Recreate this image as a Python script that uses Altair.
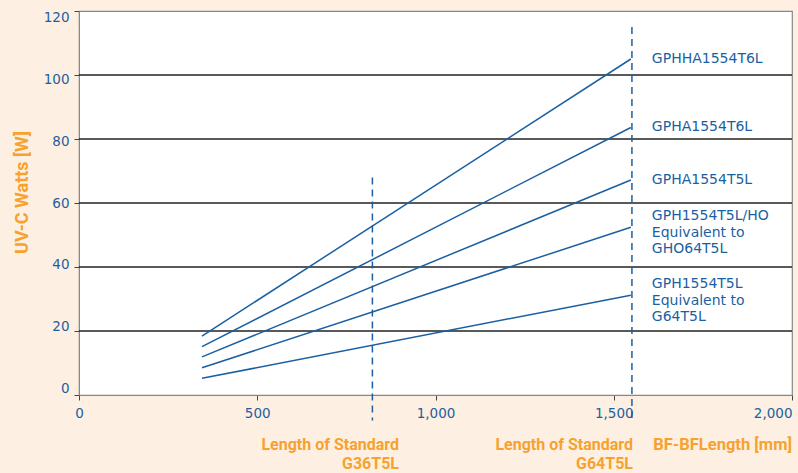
import altair as alt
import pandas as pd

# ---- data ----
series = ["GPHHA1554T6L", "GPHA1554T6L", "GPHA1554T5L",
          "GPH1554T5L/HO\nEquivalent to\nGHO64T5L",
          "GPH1554T5L\nEquivalent to\nG64T5L"]
n_lines = [1, 1, 1, 3, 3]
length_start = 345
length_end = 1548
watts_start = [18.4, 15.1, 11.9, 8.5, 5.2]
watts_end = [105.0, 83.6, 67.2, 52.4, 31.2]

std_length = [823, 1551]
std_top = [68, 115]
std_bottom = [-8, -8]
std_labels = ["Length of Standard\nG36T5L", "Length of Standard\nG64T5L"]

grid_values = [20, 40, 60, 80, 100]
y_ticks = [0, 20, 40, 60, 80, 100, 120]
x_ticks = [0, 500, 1000, 1500, 2000]

BLUE = "#1b5fa3"
ORANGE = "#f7a12f"
BG = "#fdf0e2"
FONT = "DejaVu Sans"
COND = "Roboto"

W, H = 713, 384

rows = []
for s, a, b in zip(series, watts_start, watts_end):
    rows.append({"series": s, "length": length_start, "watts": a})
    rows.append({"series": s, "length": length_end, "watts": b})
lines_df = pd.DataFrame(rows)

labels_df = pd.DataFrame({"series": series, "n": n_lines,
                          "length": [length_end] * len(series), "watts": watts_end})
std_df = pd.DataFrame({"length": std_length, "top": std_top, "bottom": std_bottom})
grid_df = pd.DataFrame({"v": grid_values})

xs = alt.Scale(domain=[0, 2000], nice=False)
ys = alt.Scale(domain=[0, 120], nice=False)

x_axis = alt.Axis(values=x_ticks, format=",d", title=None, grid=False,
                  tickSize=5, tickColor="#444", domainColor="#888",
                  labelColor=BLUE, labelFont=FONT, labelFontSize=13.5,
                  labelPadding=6,
                  labelAlign=alt.expr("datum.value == 2000 ? 'right' : 'center'"))
y_axis = alt.Axis(values=y_ticks, grid=False, title="UV-C Watts [W]",
                  tickSize=5, tickColor="#444", domainColor="#888",
                  labelColor=BLUE, labelFont=FONT, labelFontSize=13.5,
                  labelPadding=5,
                  labelOffset=alt.expr("(datum.value - 60) * 0.11"),
                  titleColor=ORANGE, titleFont=COND, titleFontSize=18,
                  titleFontWeight="bold", titleAngle=270, titleX=-57, titleY=181,
                  titleAlign="center", titleBaseline="middle")

grid = alt.Chart(grid_df).mark_rule(color="#222", strokeWidth=1.5).encode(
    y=alt.Y("v:Q", scale=ys, axis=y_axis))

lines = alt.Chart(lines_df).mark_line(color=BLUE, strokeWidth=1.5).encode(
    x=alt.X("length:Q", scale=xs, axis=x_axis),
    y=alt.Y("watts:Q", scale=ys),
    detail="series:N")

std_rules = alt.Chart(std_df).mark_rule(color=BLUE, strokeWidth=1.5,
                                        strokeDash=[7, 5]).encode(
    x=alt.X("length:Q", scale=xs),
    y=alt.Y("top:Q", scale=ys),
    y2="bottom:Q")

lab1 = alt.Chart(labels_df).transform_filter("datum.n == 1").mark_text(
    align="left", baseline="top", dx=21, dy=-7, color=BLUE, font=FONT,
    fontSize=14, lineBreak="\n", lineHeight=16.5).encode(
    x=alt.X("length:Q", scale=xs), y=alt.Y("watts:Q", scale=ys), text="series:N")

lab3 = alt.Chart(labels_df).transform_filter("datum.n == 3").mark_text(
    align="left", baseline="top", dx=21, dy=-18, color=BLUE, font=FONT,
    fontSize=14, lineBreak="\n", lineHeight=16.5).encode(
    x=alt.X("length:Q", scale=xs), y=alt.Y("watts:Q", scale=ys), text="series:N")

std_text = []
for txt, px in zip(std_labels, [320, 554]):
    std_text.append(alt.Chart(pd.DataFrame({"t": [txt]})).mark_text(
        align="right", baseline="top", color=ORANGE, font=COND, fontSize=16,
        fontWeight="bold", lineBreak="\n", lineHeight=18.5).encode(
        x=alt.value(px), y=alt.value(426), text="t:N"))

xtitle = alt.Chart(pd.DataFrame({"t": ["BF-BFLength [mm]"]})).mark_text(
    align="right", baseline="top", color=ORANGE, font=COND, fontSize=16.5,
    fontWeight="bold").encode(x=alt.value(W), y=alt.value(426), text="t:N")

chart = alt.layer(grid, lines, std_rules, lab1, lab3, *std_text, xtitle).properties(
    width=W, height=H,
    autosize=alt.AutoSizeParams(type="none"),
    padding={"left": 79, "top": 11, "right": 6, "bottom": 78},
    background=BG,
).configure_view(fill="white", stroke="#888", strokeWidth=1.2)

chart.save("out.html", embed_options={"renderer": "svg", "actions": False})
